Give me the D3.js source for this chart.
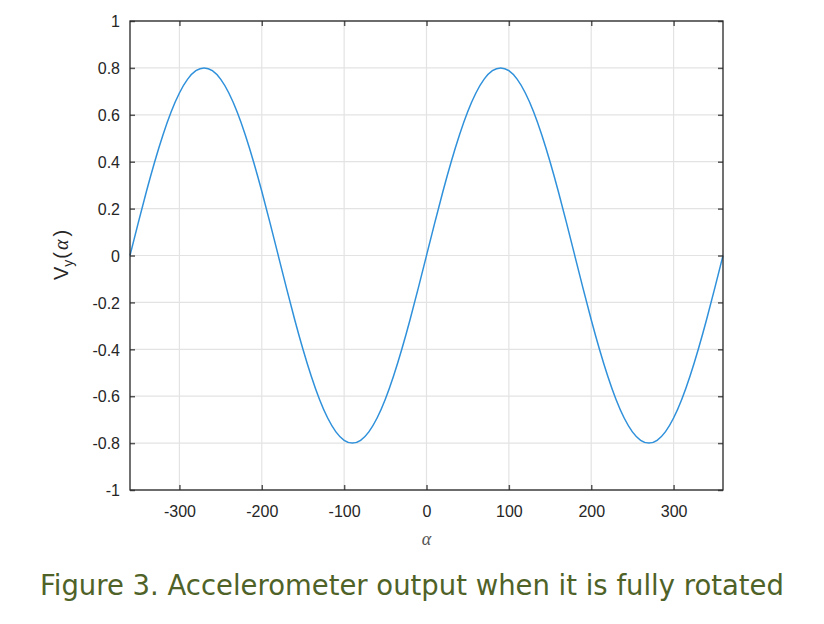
<!DOCTYPE html>
<html><head><meta charset="utf-8">
<script src="https://cdn.jsdelivr.net/npm/d3@7"></script>
<style>
html,body{margin:0;padding:0;background:#fff;}
</style></head>
<body>
<script>
// Data
const alphaDeg = [-360,-350,-340,-330,-320,-310,-300,-290,-280,-270,-260,-250,-240,-230,-220,-210,-200,-190,-180,-170,-160,-150,-140,-130,-120,-110,-100,-90,-80,-70,-60,-50,-40,-30,-20,-10,0,10,20,30,40,50,60,70,80,90,100,110,120,130,140,150,160,170,180,190,200,210,220,230,240,250,260,270,280,290,300,310,320,330,340,350,360];
const vy = [0,0.139,0.274,0.400,0.514,0.613,0.693,0.752,0.788,0.800,0.788,0.752,0.693,0.613,0.514,0.400,0.274,0.139,0,-0.139,-0.274,-0.400,-0.514,-0.613,-0.693,-0.752,-0.788,-0.800,-0.788,-0.752,-0.693,-0.613,-0.514,-0.400,-0.274,-0.139,0,0.139,0.274,0.400,0.514,0.613,0.693,0.752,0.788,0.800,0.788,0.752,0.693,0.613,0.514,0.400,0.274,0.139,0,-0.139,-0.274,-0.400,-0.514,-0.613,-0.693,-0.752,-0.788,-0.800,-0.788,-0.752,-0.693,-0.613,-0.514,-0.400,-0.274,-0.139,0];
const xTicks = [-300,-200,-100,0,100,200,300];
const xTickLabels = ["-300","-200","-100","0","100","200","300"];
const yTicks = [-1,-0.8,-0.6,-0.4,-0.2,0,0.2,0.4,0.6,0.8,1];
const yTickLabels = ["-1","-0.8","-0.6","-0.4","-0.2","0","0.2","0.4","0.6","0.8","1"];
const caption = "Figure 3. Accelerometer output when it is fully rotated";

const W = 824, H = 624;
const L = 130, R = 723, T = 21, B = 490;
const svg = d3.select("body").append("svg").attr("width", W).attr("height", H);

const x = d3.scaleLinear().domain([-360,360]).range([L,R]);
const y = d3.scaleLinear().domain([-1,1]).range([B,T]);

// grid
const g = svg.append("g");
g.selectAll(".vg").data(xTicks).enter().append("line")
  .attr("x1", d=>x(d)).attr("x2", d=>x(d)).attr("y1", T).attr("y2", B)
  .attr("stroke", "#e3e3e3").attr("stroke-width", 1.2);
g.selectAll(".hg").data(yTicks).enter().append("line")
  .attr("y1", d=>y(d)).attr("y2", d=>y(d)).attr("x1", L).attr("x2", R)
  .attr("stroke", "#e3e3e3").attr("stroke-width", 1.2);

// curve
const line = d3.line().x((d,i)=>x(alphaDeg[i])).y(d=>y(d)).curve(d3.curveNatural);
svg.append("path").datum(vy).attr("d", line).attr("fill","none")
  .attr("stroke","#3091db").attr("stroke-width",1.5);

// axes (ticks inward, mirrored box)
const tickCol = "#262626";
const axB = svg.append("g").attr("transform",`translate(0,${B})`)
  .call(d3.axisBottom(x).tickValues(xTicks).tickSizeInner(-5).tickSizeOuter(0).tickPadding(13).tickFormat((d,i)=>xTickLabels[i]));
const axT = svg.append("g").attr("transform",`translate(0,${T})`)
  .call(d3.axisTop(x).tickValues(xTicks).tickSizeInner(-5).tickSizeOuter(0).tickFormat(""));
const axL = svg.append("g").attr("transform",`translate(${L},0)`)
  .call(d3.axisLeft(y).tickValues(yTicks).tickSizeInner(-5).tickSizeOuter(0).tickPadding(10).tickFormat((d,i)=>yTickLabels[i]));
const axR = svg.append("g").attr("transform",`translate(${R},0)`)
  .call(d3.axisRight(y).tickValues(yTicks).tickSizeInner(-5).tickSizeOuter(0).tickFormat(""));
[axB,axT,axL,axR].forEach(a=>{
  a.selectAll(".domain").remove();
  a.selectAll(".tick line").attr("stroke","#555").attr("stroke-width",1.5);
  a.selectAll("text").attr("fill",tickCol).style("font-family","'Liberation Sans',Arial,sans-serif").style("font-size","16px");
});
axB.selectAll("text").attr("dy","0.71em").attr("y", 16);
axL.selectAll("text").attr("dy","0.36em");
// box
svg.append("rect").attr("x",L).attr("y",T).attr("width",R-L).attr("height",B-T)
  .attr("fill","none").attr("stroke","#262626").attr("stroke-width",1.3);

// y label
const yl = svg.append("text").attr("transform",`translate(68,255) rotate(-90)`)
  .attr("text-anchor","middle").attr("fill","#262626")
  .style("font-family","'Liberation Sans',Arial,sans-serif").style("font-size","20px");
yl.append("tspan").text("V");
yl.append("tspan").attr("dy",5).style("font-size","14px").text("y");
yl.append("tspan").attr("dy",-5).attr("dx",1).text("(");
yl.append("tspan").attr("dx",2).style("font-family","'Liberation Serif','DejaVu Serif',serif").style("font-style","italic").text("\u03B1");
yl.append("tspan").attr("dx",3).text(")");

// x label
svg.append("text").attr("x", x(0)).attr("y", 545).attr("text-anchor","middle")
  .attr("fill","#555").style("font-family","'Liberation Serif','DejaVu Serif',serif")
  .style("font-style","italic").style("font-size","18px").text("\u03B1");

// caption
const cap = svg.append("text").attr("x",40).attr("y",595).attr("fill","#4f6228")
  .style("font-family","'DejaVu Sans',Verdana,sans-serif").style("font-size","24px").text(caption);
const len = cap.node().getComputedTextLength();
cap.style("font-size", (24*744/len).toFixed(2)+"px");
</script>
</body></html>
